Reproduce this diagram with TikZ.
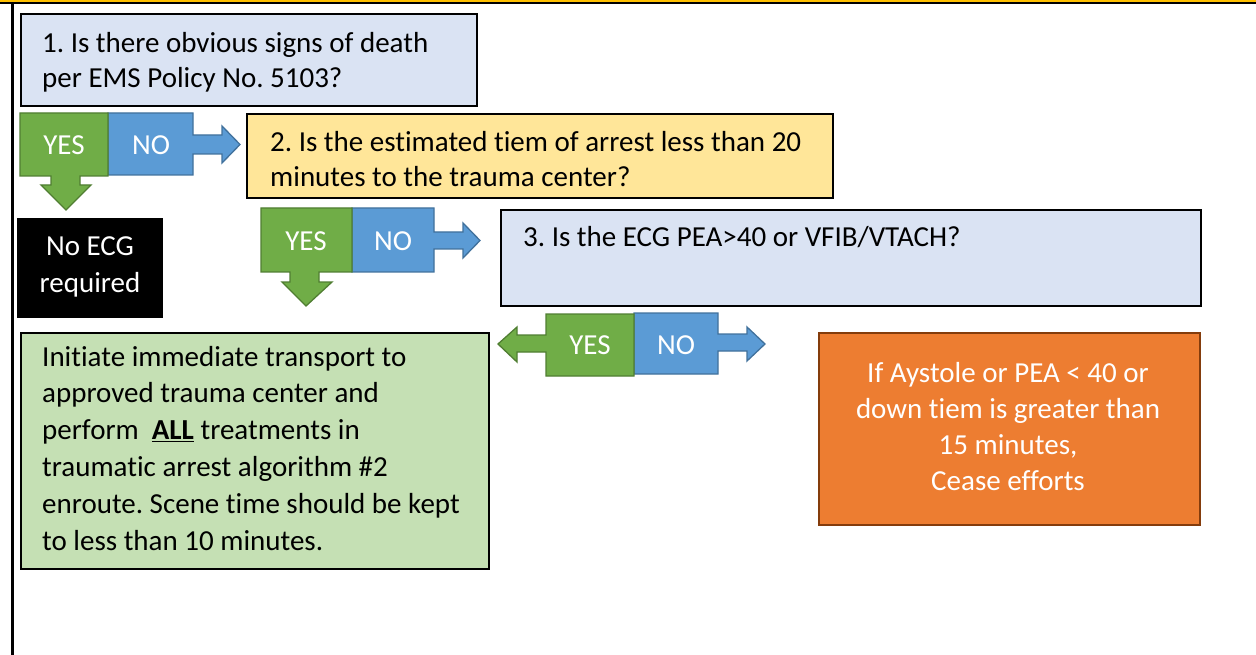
\documentclass[tikz,border=0pt]{standalone}
\usepackage{fontspec}
\setmainfont{Carlito}[RawFeature=-liga]
\frenchspacing
\definecolor{qblue}{HTML}{DAE3F3}
\definecolor{qyellow}{HTML}{FFE699}
\definecolor{qgreen}{HTML}{C5E0B4}
\definecolor{yfill}{HTML}{70AD47}
\definecolor{yline}{HTML}{507E32}
\definecolor{nfill}{HTML}{5B9BD5}
\definecolor{nline}{HTML}{41719C}
\definecolor{ofill}{HTML}{ED7D31}
\definecolor{oline}{HTML}{843C0C}
\definecolor{goldline}{HTML}{FFC000}
\tikzset{
  qbox/.style={draw=black, line width=1.6pt, rectangle, inner sep=0pt, anchor=north west},
  qtext/.style={inner sep=0pt, anchor=base west, align=left, font=\fontsize{29}{35}\selectfont},
  ctext/.style={inner sep=0pt, anchor=base, align=center, text=white, font=\fontsize{29}{35.7}\selectfont},
  yesshape/.style={fill=yfill, draw=yline, line width=1.3pt, line join=miter},
  noshape/.style={fill=nfill, draw=nline, line width=1.3pt, line join=miter},
  lbl/.style={inner sep=0pt, text=white, font=\fontsize{29}{32}\selectfont}
}
\begin{document}
\begin{tikzpicture}[x=1pt,y=-1pt]
\useasboundingbox (0,0) rectangle (1256,655);
% frame
\draw[goldline, line width=2pt] (0,1) -- (1256,1);
\draw[black, line width=1.6pt] (0,3) -- (1256,3);
\draw[black, line width=2.2pt] (12.5,3) -- (12.5,655);

% question 1 (base anchor = last line's baseline)
\node[qbox, fill=qblue, minimum width=456pt, minimum height=92pt] (q1) at (20,13) {};
\node[qtext] (q1t) at (42,88) {1. Is there obvious signs of death\\per EMS Policy No. 5103?};

% answer pair 1
\draw[noshape] (108,113) -- (193,113) -- (193,135) -- (222,135) -- (222,126) -- (240,144.5) -- (222,163) -- (222,154) -- (193,154) -- (193,175) -- (108,175) -- cycle;
\draw[yesshape] (20,113) -- (108,113) -- (108,176) -- (80,176) -- (80,185) -- (91,185) -- (66,210) -- (41,185) -- (51,185) -- (51,176) -- (20,176) -- cycle;
\node[lbl] (yes1) at (64,145) {YES};
\node[lbl] (no1) at (151,145) {NO};

% question 2
\node[qbox, fill=qyellow, minimum width=586pt, minimum height=84pt] (q2) at (246,113) {};
\node[qtext] (q2t) at (270,186.7) {2. Is the estimated tiem of arrest less than 20\\minutes to the trauma center?};

% no ECG
\node[fill=black, rectangle, inner sep=0pt, anchor=north west, minimum width=146pt, minimum height=100pt] (noecg) at (17,218) {};
\node[ctext, font=\fontsize{29}{37}\selectfont] (noecgt) at (90,292) {No ECG\\required};

% answer pair 2
\draw[noshape] (352,208) -- (434,208) -- (434,232) -- (463,232) -- (463,223) -- (480,240.5) -- (463,258) -- (463,249) -- (434,249) -- (434,272) -- (352,272) -- cycle;
\draw[yesshape] (261,208) -- (352,208) -- (352,272) -- (319,272) -- (319,282) -- (332,282) -- (306,306) -- (282,282) -- (290,282) -- (290,272) -- (261,272) -- cycle;
\node[lbl] (yes2) at (306,241) {YES};
\node[lbl] (no2) at (393,241) {NO};

% question 3
\node[qbox, fill=qblue, minimum width=700pt, minimum height=96pt] (q3) at (500,209) {};
\node[qtext] (q3t) at (523,246.7) {3. Is the ECG PEA>40 or VFIB/VTACH?};

% answer pair 3
\draw[noshape] (634,313) -- (718,313) -- (718,334) -- (747,334) -- (747,327) -- (765,344) -- (747,361) -- (747,351) -- (718,351) -- (718,374) -- (634,374) -- cycle;
\draw[yesshape] (546,314) -- (634,314) -- (634,376) -- (546,376) -- (546,352) -- (517,352) -- (517,362) -- (498,344) -- (517,327) -- (517,335) -- (546,335) -- cycle;
\node[lbl] (yes3) at (590,345) {YES};
\node[lbl] (no3) at (676,345) {NO};

% action box
\node[qbox, fill=qgreen, minimum width=468pt, minimum height=236pt] (act) at (20,332) {};
\node[qtext, font=\fontsize{29}{36.8}\selectfont] (actt) at (42,550) {Initiate immediate transport to\\approved trauma center and\\perform \ \textbf{\underline{ALL}} treatments in\\traumatic arrest algorithm \#2\\enroute. Scene time should be kept\\to less than 10 minutes.};

% cease box
\node[qbox, fill=ofill, draw=oline, minimum width=381pt, minimum height=192pt] (cease) at (818,332) {};
\node[ctext] (ceaset) at (1008,490) {If Aystole or PEA < 40 or\\down tiem is greater than\\15 minutes,\\Cease efforts};
\end{tikzpicture}
\end{document}
